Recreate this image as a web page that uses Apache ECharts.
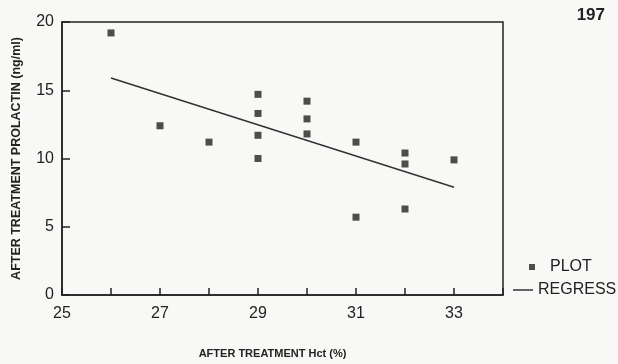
<!DOCTYPE html>
<html>
<head>
<meta charset="utf-8">
<script src="https://cdn.jsdelivr.net/npm/echarts@6/dist/echarts.min.js"></script>
<style>
html,body{margin:0;padding:0;background:#f8f8f6;}
#chart{width:618px;height:364px;}
</style>
</head>
<body>
<div id="chart"></div>
<script>
// Data
var hct       = [26, 27, 28, 29, 29, 29, 29, 30, 30, 30, 31, 31, 32, 32, 32, 33];
var prolactin = [19.2, 12.4, 11.2, 14.7, 13.3, 11.7, 10.0, 14.2, 12.9, 11.8, 11.2, 5.7, 10.4, 9.6, 6.3, 9.9];
var regX = [26, 33];
var regY = [15.9, 7.9];
var xLabels = [25, 27, 29, 31, 33];
var yTicks = [0, 5, 10, 15, 20];

var points = hct.map(function (x, i) { return [x, prolactin[i]]; });
var regLine = regX.map(function (x, i) { return [x, regY[i]]; });
var ink = '#222222';

var chart = echarts.init(document.getElementById('chart'), null, {renderer: 'canvas'});
chart.setOption({
  backgroundColor: '#f8f8f6',
  animation: false,
  title: {
    text: '197', right: 8, top: 2,
    textStyle: {fontFamily: 'Liberation Sans', fontWeight: 'bold', fontSize: 17, color: ink}
  },
  grid: {left: 62, top: 22, right: 115, bottom: 68, show: true, borderColor: ink, borderWidth: 1.5, backgroundColor: 'transparent'},
  legend: [{
    data: [{name: 'PLOT', icon: 'rect'}],
    left: 524, top: 254, itemWidth: 6, itemHeight: 6,
    textStyle: {fontFamily: 'Liberation Sans', fontSize: 16, color: ink, padding: [0, 0, 0, 10]}
  }, {
    data: [{name: 'REGRESS', icon: 'rect'}],
    left: 508, top: 277, itemWidth: 20, itemHeight: 1.5,
    textStyle: {fontFamily: 'Liberation Sans', fontSize: 16, color: ink}
  }],
  xAxis: {
    type: 'value', min: 25, max: 34, interval: 1,
    name: 'AFTER TREATMENT Hct (%)', nameLocation: 'middle', nameGap: 53,
    nameTextStyle: {fontFamily: 'Liberation Sans', fontWeight: 'bold', fontSize: 11, color: ink, padding: [0, 20, 0, 0]},
    axisLine: {lineStyle: {color: ink, width: 1.5}},
    axisTick: {inside: true, length: 7, lineStyle: {color: ink, width: 1.5}},
    splitLine: {show: false},
    axisLabel: {
      margin: 11, fontFamily: 'Liberation Sans', fontSize: 16, color: ink,
      formatter: function (v) { return xLabels.indexOf(v) >= 0 ? String(v) : ''; }
    }
  },
  yAxis: {
    type: 'value', min: 0, max: 20, interval: 5,
    name: 'AFTER TREATMENT PROLACTIN (ng/ml)', nameLocation: 'middle', nameGap: 39,
    nameTextStyle: {fontFamily: 'Liberation Sans', fontWeight: 'bold', fontSize: 12.5, color: ink},
    axisLine: {lineStyle: {color: ink, width: 1.5}},
    axisTick: {inside: true, length: 8, lineStyle: {color: ink, width: 1.5}},
    splitLine: {show: false},
    axisLabel: {
      margin: 8, fontFamily: 'Liberation Sans', fontSize: 16, color: ink,
      formatter: function (v) { return yTicks.indexOf(v) >= 0 ? String(v) : ''; }
    }
  },
  series: [{
    name: 'PLOT', type: 'scatter', data: points,
    symbol: 'rect', symbolSize: 7,
    itemStyle: {color: ink}
  }, {
    name: 'REGRESS', type: 'line', data: regLine,
    symbol: 'none', showSymbol: false,
    lineStyle: {color: '#333333', width: 1.5},
    itemStyle: {color: '#333333'}
  }]
});
</script>
</body>
</html>
